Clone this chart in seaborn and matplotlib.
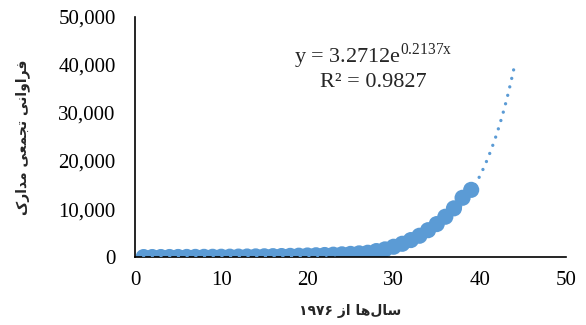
import numpy as np
import pandas as pd
import matplotlib
matplotlib.use("Agg")
import matplotlib.pyplot as plt
from matplotlib.ticker import StrMethodFormatter
import seaborn as sns

# years since 1976 and cumulative number of documents
years = list(range(1, 40))
cum_docs = [3, 6, 9, 14, 20, 27, 35, 45, 56, 68,
            82, 98, 116, 137, 160, 186, 215, 248, 285, 327,
            375, 430, 495, 570, 660, 770, 900, 1250, 1600, 2150,
            2770, 3540, 4440, 5600, 6870, 8400, 10150, 12350, 14000]

# exponential trendline shown on the chart (forecast 5 years ahead)
trend_a = 3.2712
trend_b = 0.2137
trend_r2 = 0.9827
trend_end = 44

x_label = "سال‌ها از ۱۹۷۶"
y_label = "فراوانی تجمعی مدارک"

blue = "#5B9BD5"

# minimal arabic/persian shaping, matplotlib does not join letters itself
forms = {
    "ا": ("\uFE8D", "\uFE8E", None, None),
    "د": ("\uFEA9", "\uFEAA", None, None),
    "ر": ("\uFEAD", "\uFEAE", None, None),
    "ز": ("\uFEAF", "\uFEB0", None, None),
    "و": ("\uFEED", "\uFEEE", None, None),
    "ت": ("\uFE95", "\uFE96", "\uFE97", "\uFE98"),
    "ج": ("\uFE9D", "\uFE9E", "\uFE9F", "\uFEA0"),
    "س": ("\uFEB1", "\uFEB2", "\uFEB3", "\uFEB4"),
    "ع": ("\uFEC9", "\uFECA", "\uFECB", "\uFECC"),
    "ف": ("\uFED1", "\uFED2", "\uFED3", "\uFED4"),
    "ل": ("\uFEDD", "\uFEDE", "\uFEDF", "\uFEE0"),
    "م": ("\uFEE1", "\uFEE2", "\uFEE3", "\uFEE4"),
    "ن": ("\uFEE5", "\uFEE6", "\uFEE7", "\uFEE8"),
    "ه": ("\uFEE9", "\uFEEA", "\uFEEB", "\uFEEC"),
    "ی": ("\uFBFC", "\uFBFD", "\uFBFE", "\uFBFF"),
    "ک": ("\uFB8E", "\uFB8F", "\uFB90", "\uFB91"),
}


def shape_word(word):
    chars = list(word)
    out = []
    for i, c in enumerate(chars):
        if c not in forms:
            if c != "\u200c":
                out.append(c)
            continue
        prev = chars[i - 1] if i > 0 else None
        nxt = chars[i + 1] if i + 1 < len(chars) else None
        join_prev = prev in forms and forms[prev][2] is not None
        join_next = nxt in forms and forms[c][2] is not None
        iso, fin, ini, med = forms[c]
        if join_prev and join_next:
            out.append(med)
        elif join_prev:
            out.append(fin)
        elif join_next:
            out.append(ini)
        else:
            out.append(iso)
    return "".join(reversed(out))


def rtl(text):
    words = text.split(" ")
    vis = []
    for w in reversed(words):
        if any(ch in forms for ch in w):
            vis.append(shape_word(w))
        else:
            vis.append(w)
    return " ".join(vis)


df = pd.DataFrame({"year": years, "docs": cum_docs})
trend_x = np.linspace(1, trend_end, 300)
trend = pd.DataFrame({"year": trend_x, "docs": trend_a * np.exp(trend_b * trend_x)})

sns.set_style("white")
plt.rcParams["font.family"] = ["Liberation Serif", "DejaVu Sans"]
plt.rcParams["mathtext.fontset"] = "custom"
plt.rcParams["mathtext.rm"] = "Liberation Serif"

fig = plt.figure(figsize=(5.86, 3.25), dpi=100)
ax = fig.add_axes([0.2304, 0.209, 0.7355, 0.7387])

sns.scatterplot(data=df, x="year", y="docs", s=135, color=blue,
                edgecolor="none", linewidth=0, ax=ax, zorder=2)
sns.lineplot(data=trend, x="year", y="docs", color=blue, linewidth=2.4,
             linestyle=(0, (0.01, 2.6)), dash_capstyle="round", ax=ax, zorder=3)

ax.set_xlim(0, 50)
ax.set_ylim(0, 50000)
ax.set_xticks(range(0, 51, 10))
ax.set_yticks(range(0, 50001, 10000))
ax.yaxis.set_major_formatter(StrMethodFormatter("{x:,.0f}"))
ax.tick_params(length=0, labelsize=15, colors="black")
ax.tick_params(axis="y", pad=14)
ax.tick_params(axis="x", pad=10)

for side in ["top", "right"]:
    ax.spines[side].set_visible(False)
for side in ["left", "bottom"]:
    ax.spines[side].set_color("black")
    ax.spines[side].set_linewidth(1.2)

ax.set_xlabel(rtl(x_label), fontsize=10, fontweight="bold",
              family=["DejaVu Sans"], labelpad=10)
ax.set_ylabel(rtl(y_label), fontsize=10, fontweight="bold",
              family=["DejaVu Sans"], labelpad=20)

ax.text(27.6, 41900, "y = %.4fe$^{\\mathrm{%.4fx}}$" % (trend_a, trend_b),
        fontsize=16, ha="center", va="center")
ax.text(27.6, 36450, "R² = %.4f" % trend_r2, fontsize=16, ha="center", va="center")

fig.savefig("out.png", dpi=100)
